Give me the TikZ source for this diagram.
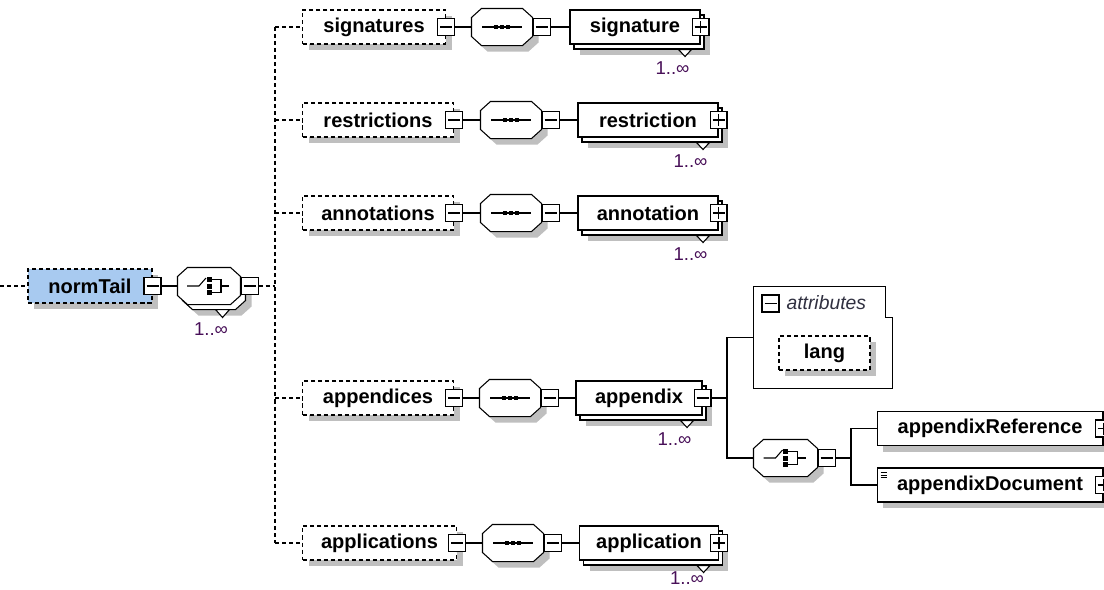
\documentclass[tikz,border=0pt]{standalone}
\usepackage{fontspec}
\setmainfont{Liberation Sans}
\usetikzlibrary{calc,shadows}

\definecolor{normblue}{RGB}{168,202,240}
\definecolor{multcol}{RGB}{72,16,88}
\definecolor{attrcol}{RGB}{48,48,64}

\newcommand\octo[2]{($(#2.north west)+(10+#1,#1)$) -- ($(#2.north east)+(-10+#1,#1)$) -- ($(#2.north east)+(#1,9+#1)$) -- ($(#2.south east)+(#1,-9+#1)$) -- ($(#2.south east)+(-10+#1,#1)$) -- ($(#2.south west)+(10+#1,#1)$) -- ($(#2.south west)+(#1,-9+#1)$) -- ($(#2.north west)+(#1,9+#1)$) -- cycle}

\tikzset{
  shd/.style={drop shadow={shadow xshift=0.12cm,shadow yshift=-0.12cm,fill=black!25,opacity=1}},
  stk/.style={drop shadow={shadow xshift=0.2cm,shadow yshift=-0.22cm,fill=black!25,opacity=1},
    copy shadow={shadow xshift=0.08cm,shadow yshift=-0.1cm,fill=white,draw=black}}
}

\begin{document}
\begin{tikzpicture}[x=0.02cm,y=-0.02cm,line width=0.6pt,
    font=\fontsize{11.4}{13}\selectfont\bfseries,
    opt/.style={draw,dash pattern=on 2.3pt off 1.7pt,fill=white,minimum height=0.68cm,inner sep=0pt,shd},
    elem/.style={draw,fill=white,minimum height=0.68cm,inner sep=0pt},
    comp/.style={minimum width=1.2cm,minimum height=0.72cm,inner sep=0pt},
    btn/.style={draw,fill=white,minimum size=0.34cm,inner sep=0pt},
    minusbtn/.style={btn,path picture={\draw ([xshift=0.05cm]path picture bounding box.west) -- ([xshift=-0.05cm]path picture bounding box.east);}},
    plusbtn/.style={btn,path picture={\draw ([xshift=0.05cm]path picture bounding box.west) -- ([xshift=-0.05cm]path picture bounding box.east) ([yshift=-0.05cm]path picture bounding box.north) -- ([yshift=0.05cm]path picture bounding box.south);}},
    dline/.style={dash pattern=on 2.3pt off 1.7pt},
    mult/.style={font=\fontsize{10.6}{12}\selectfont\mdseries,text=multcol,inner sep=0pt}]
  \useasboundingbox (0,0) rectangle (1104,589);

  \node[opt,fill=normblue,minimum width=2.48cm] (normTail) at (90,286) {normTail};
  \node[comp,minimum width=1.24cm] (mainChoice) at (209,286) {};

  \node[opt,minimum width=2.86cm,anchor=west] (signatures) at (302,27) {signatures};
  \node[opt,minimum width=3.02cm,anchor=west] (restrictions) at (302,120) {restrictions};
  \node[opt,minimum width=3.02cm,anchor=west] (annotations) at (302,213) {annotations};
  \node[opt,minimum width=3.02cm,anchor=west] (appendices) at (302,398) {appendices};
  \node[opt,minimum width=3.08cm,anchor=west] (applications) at (302,543) {applications};

  \node[comp] (sigSeq) at (502,27) {};
  \node[comp] (resSeq) at (511,120) {};
  \node[comp] (annSeq) at (511,213) {};
  \node[comp] (apxSeq) at (510,398) {};
  \node[comp] (aplSeq) at (513,543) {};

  \node[elem,stk,minimum width=2.6cm] (signature) at (635,27) {signature};
  \node[elem,stk,minimum width=2.8cm] (restriction) at (648,120) {restriction};
  \node[elem,stk,minimum width=2.8cm] (annotation) at (648,213) {annotation};
  \node[elem,stk,minimum width=2.52cm] (appendix) at (639,398) {appendix};
  \node[elem,stk,minimum width=2.78cm] (application) at (649,543) {application};

  \node[minimum width=2.76cm,minimum height=2.02cm] (attrs) at (823,337.5) {};
  \draw[fill=white] (attrs.north west) -- ($(attrs.north east)+(-7,0)$) -- ($(attrs.north east)+(-7,31)$)
    -- ($(attrs.north east)+(0,31)$) -- (attrs.south east) -- (attrs.south west) -- cycle;
  \node[anchor=west,font=\fontsize{11}{13}\selectfont\itshape,text=attrcol,inner sep=0pt] (attrs-t) at (786,303) {attributes};
  \node[opt,minimum width=1.82cm] (lang) at (824.5,353) {lang};

  \node[comp,minimum width=1.26cm] (apxChoice) at (785.5,458) {};
  \node[elem,shd,minimum width=4.52cm] (appendixReference) at (990,428.5) {appendixReference};
  \node[elem,shd,minimum width=4.52cm] (appendixDocument) at (990,485) {appendixDocument};
  \foreach \dy in {5,7.5,10}
    \draw[line width=0.5pt] ($(appendixDocument.north west)+(4,\dy)$) -- ++(6,0);

  \fill[black!25] \octo{11}{mainChoice};
  \draw[fill=white] \octo{5}{mainChoice};
  \draw[fill=white] \octo{0}{mainChoice};
  \foreach \cp in {sigSeq,resSeq,annSeq,apxSeq,aplSeq,apxChoice}{
    \fill[black!25] \octo{6}{\cp};
    \draw[fill=white] \octo{0}{\cp};
  }

  \node[minusbtn] (normTail-b) at (normTail.east) {};
  \node[minusbtn,anchor=west] (mainChoice-b) at (mainChoice.east) {};
  \node[minusbtn] (attrs-b) at (770.5,303.5) {};
  \node[minusbtn] (appendix-b) at (appendix.east) {};
  \foreach \n in {signatures,restrictions,annotations,appendices,applications}
    \node[minusbtn] (\n-b) at (\n.east) {};
  \foreach \n in {sigSeq,resSeq,annSeq,apxSeq,aplSeq,apxChoice}
    \node[minusbtn,anchor=west] (\n-b) at (\n.east) {};
  \foreach \n in {signature,restriction,annotation,application,appendixReference,appendixDocument}
    \node[plusbtn] (\n-b) at (\n.east) {};

  \coordinate (rootIn) at (0,286);
  \coordinate (busTop) at (275,27);
  \coordinate (busBot) at (275,543);
  \draw[dline] (rootIn) -- (normTail);
  \draw (normTail-b) -- (mainChoice);
  \draw[dline] (mainChoice-b) -- (mainChoice-b -| busTop);
  \draw[dline] (busTop) -- (busBot);
  \foreach \r in {signatures,restrictions,annotations,appendices,applications}
    \draw[dline] (\r -| busTop) -- (\r);
  \foreach \a/\s/\e in {signatures/sigSeq/signature,restrictions/resSeq/restriction,annotations/annSeq/annotation,appendices/apxSeq/appendix,applications/aplSeq/application}{
    \draw (\a-b) -- (\s);
    \draw (\s-b) -- (\e);
  }

  \coordinate (apxFork) at (727,398);
  \coordinate (choiceFork) at (851,458);
  \draw (appendix-b) -- (apxFork);
  \draw (apxFork) |- (attrs.west);
  \draw (apxFork) |- (apxChoice);
  \draw (apxChoice-b) -- (choiceFork);
  \draw (choiceFork) |- (appendixReference);
  \draw (choiceFork) |- (appendixDocument);

  \foreach \cp in {sigSeq,resSeq,annSeq,apxSeq,aplSeq}{
    \draw ($(\cp)+(-20,0)$) -- ($(\cp)+(20,0)$);
    \foreach \dx in {-6,0,6}
      \fill ($(\cp)+(\dx-2,-2)$) rectangle ++(4,4);
  }
  \foreach \cp in {mainChoice,apxChoice}{
    \draw ($(\cp)+(-22,0)$) -- ($(\cp)+(-10,0)$) -- ($(\cp)+(-3,-8)$);
    \foreach \dy in {-6.5,0,6.5}
      \fill ($(\cp)+(-2.5,\dy-2.5)$) rectangle ++(5,5);
    \draw ($(\cp)+(2,-6.5)$) -- ($(\cp)+(12,-6.5)$) -- ($(\cp)+(12,6.5)$) -- ($(\cp)+(2,6.5)$)
      ($(\cp)+(12,0)$) -- ($(\cp)+(20,0)$);
  }

  \draw[fill=white] ($(mainChoice.south east)+(-25,5)$) -- ++(14,0) -- ++(-7,8) -- cycle;
  \node[mult] (mainChoice-m) at (211,329) {1..∞};
  \foreach \e/\dx/\dy in {signature/-28/24,restriction/-28/24,annotation/-28/24,appendix/-28/24,application/-32/18}{
    \draw[fill=white] ($(\e.south east)+(-22,5)$) -- ++(13,0) -- ++(-6.5,7) -- cycle;
    \node[mult] (\e-m) at ($(\e.south east)+(\dx,\dy)$) {1..∞};
  }
\end{tikzpicture}
\end{document}
